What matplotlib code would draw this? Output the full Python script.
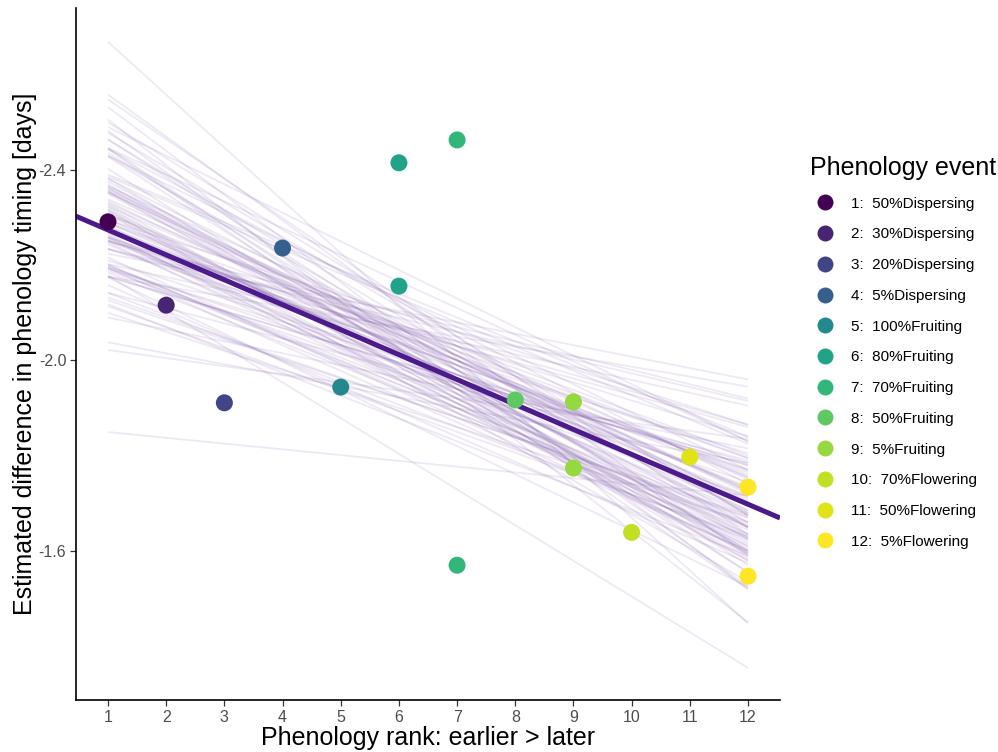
import matplotlib
matplotlib.use("Agg")
import matplotlib.pyplot as plt
from matplotlib.lines import Line2D
import numpy as np

plt.rcParams['font.family'] = ['Liberation Sans', 'DejaVu Sans']

# Observed points: phenology rank and estimated difference
ranks = [1, 2, 3, 4, 5, 6, 6, 7, 7, 8, 9, 9, 10, 11, 12, 12]
values = [-2.291, -2.116, -1.911, -2.236, -1.944, -2.415, -2.156, -2.463,
          -1.570, -1.917, -1.913, -1.774, -1.639, -1.797, -1.734, -1.547]

event_labels = ["1:  50%Dispersing", "2:  30%Dispersing", "3:  20%Dispersing",
                "4:  5%Dispersing", "5:  100%Fruiting", "6:  80%Fruiting",
                "7:  70%Fruiting", "8:  50%Fruiting", "9:  5%Fruiting",
                "10:  70%Flowering", "11:  50%Flowering", "12:  5%Flowering"]

# Mean regression line: value at rank 1 and rank 12
mean_at_1 = -2.274
mean_at_12 = -1.698

# Posterior draw lines: value at rank 7 and slope per rank
draw_at_7 = [-1.96, -1.89, -2.03, -1.99, -1.86, -1.94, -2.08, -2.06, -1.91, -2.01,
             -1.93, -2.05, -1.84, -1.96, -2.00, -1.90, -1.98, -2.11, -1.95, -1.92,
             -2.02, -1.82, -2.08, -2.06, -1.94, -1.99, -1.88, -2.01, -1.95, -1.91,
             -2.13, -2.03, -1.87, -1.96, -2.03, -1.93, -2.00, -1.90, -2.04, -1.95,
             -2.04, -1.98, -1.85, -2.00, -1.96, -1.89, -2.07, -1.97, -1.94, -2.02,
             -1.88, -2.01, -2.07, -1.92, -1.98, -2.09, -1.96, -1.86, -2.00, -1.93,
             -1.97, -1.90, -2.04, -1.95, -1.89, -1.99, -1.96, -2.03, -2.05, -1.98,
             -1.83, -1.96, -2.01, -1.94, -1.97, -1.91,
             -1.95, -2.00, -1.92, -1.97, -2.02, -1.94, -1.99, -1.90, -2.05, -1.96,
             -1.93, -1.98, -2.01, -1.88, -1.95, -2.03, -1.97, -1.91, -1.99, -1.94,
             -2.06, -1.96, -1.92, -2.00,
             -1.92, -1.90, -1.94,
             -2.003, -1.729, -1.777]
draw_slope = [0.055, 0.071, 0.038, 0.062, 0.047, 0.084, 0.051, 0.029, 0.066, 0.058,
              0.043, 0.075, 0.053, 0.036, 0.061, 0.049, 0.092, 0.056, 0.032, 0.068,
              0.045, 0.059, 0.024, 0.064, 0.052, 0.079, 0.041, 0.057, 0.070, 0.048,
              0.060, 0.034, 0.054, 0.087, 0.046, 0.063, 0.039, 0.050, 0.073, 0.058,
              0.027, 0.066, 0.044, 0.055, 0.081, 0.049, 0.060, 0.037, 0.069, 0.053,
              0.042, 0.062, 0.030, 0.057, 0.076, 0.050, 0.065, 0.040, 0.054, 0.096,
              0.047, 0.061, 0.035, 0.072, 0.052, 0.044, 0.067, 0.056, 0.021, 0.059,
              0.048, 0.078, 0.043, 0.063, 0.051, 0.058,
              0.060, 0.048, 0.067, 0.040, 0.074, 0.053, 0.045, 0.058, 0.083, 0.036,
              0.064, 0.050, 0.070, 0.056, 0.041, 0.088, 0.052, 0.061, 0.047, 0.077,
              0.039, 0.066, 0.054, 0.059,
              0.017, 0.023, 0.025,
              0.111, 0.0749, 0.0121]

rank_ticks = list(range(1, 13))
y_ticks = [-2.4, -2.0, -1.6]

main_color = '#4d1a8c'
cmap = plt.get_cmap('viridis')
palette_pos = [0.0, 0.1, 0.2, 0.3, 0.47, 0.58, 0.66, 0.75, 0.84, 0.91, 0.95, 1.0]
event_colors = [cmap(p) for p in palette_pos]

fig = plt.figure(figsize=(9.98, 7.52), dpi=100)
ax = fig.add_axes([76 / 998, 1 - 700 / 752, (780 - 76) / 998, (700 - 8) / 752])

for c, s in zip(draw_at_7, draw_slope):
    ax.plot([1, 12], [c + s * (1 - 7), c + s * (12 - 7)], color='#7a52a8',
            alpha=0.13, lw=1.3, solid_capstyle='butt', zorder=1)

xmin, xmax = 0.45, 12.55
slope = (mean_at_12 - mean_at_1) / 11
ax.plot([xmin, xmax], [mean_at_1 + slope * (xmin - 1), mean_at_1 + slope * (xmax - 1)],
        color=main_color, lw=3.6, solid_capstyle='butt', zorder=2)

pt_colors = [event_colors[r - 1] for r in ranks]
ax.scatter(ranks, values, s=150, c=pt_colors, edgecolors='none', zorder=3)

ax.set_xlim(xmin, xmax)
ax.set_ylim(-1.287, -2.740)
ax.set_xticks(rank_ticks)
ax.set_xticklabels([str(r) for r in rank_ticks])
ax.set_yticks(y_ticks)
ax.set_yticklabels([f"{v:.1f}" for v in y_ticks])
ax.tick_params(axis='both', colors='#333333', labelcolor='#4d4d4d',
               labelsize=11.5, length=4, width=0.9, pad=3)
for side in ['top', 'right']:
    ax.spines[side].set_visible(False)
for side in ['left', 'bottom']:
    ax.spines[side].set_linewidth(1.2)
    ax.spines[side].set_color('black')

ax.set_xlabel('Phenology rank: earlier > later', fontsize=18, labelpad=1)
ax.set_ylabel('Estimated difference in phenology timing [days]', fontsize=18, labelpad=1)

handles = [Line2D([], [], marker='o', linestyle='none', markersize=11.5,
                  markerfacecolor=c, markeredgecolor='none') for c in event_colors]
leg = ax.legend(handles, event_labels, loc='upper left',
                bbox_to_anchor=(810 / 998, 1 - 156 / 752), bbox_transform=fig.transFigure,
                frameon=False, title='Phenology event', title_fontsize=18, fontsize=11,
                alignment='left', labelspacing=1.095, handletextpad=0.72,
                handlelength=1.96, borderpad=0, borderaxespad=0)

fig.savefig('out.png', dpi=100)
